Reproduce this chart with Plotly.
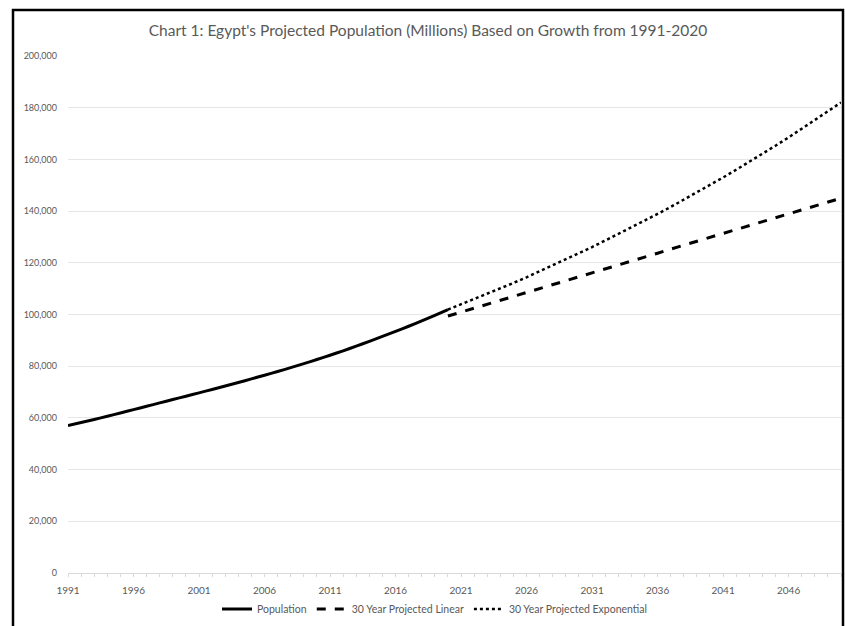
import plotly.graph_objects as go

# Historical population (thousands), 1991-2020
pop_years = list(range(1991, 2021))
population = [
    57000, 58200, 59400, 60650, 61900, 63200, 64500, 65800, 67100, 68400,
    69700, 71000, 72350, 73700, 75100, 76500, 77950, 79450, 81000, 82600,
    84250, 85950, 87750, 89600, 91500, 93450, 95450, 97500, 99650, 101900,
]

# 30-year projections, 2020-2050
proj_years = list(range(2020, 2051))
projected_linear = [
    99400, 100900, 102400, 103900, 105500, 107000, 108500, 110000, 111600, 113100,
    114600, 116100, 117600, 119200, 120700, 122200, 123700, 125300, 126800, 128300,
    129800, 131300, 132900, 134400, 135900, 137400, 139000, 140500, 142000, 143500,
    145000,
]
projected_exponential = [
    101900, 103900, 105900, 108000, 110100, 112200, 114400, 116700, 118900, 121300,
    123700, 126100, 128600, 131100, 133600, 136200, 138900, 141600, 144400, 147200,
    150100, 153000, 156000, 159000, 162100, 165300, 168500, 171800, 175100, 178500,
    182000,
]

x_tickvals = list(range(1991, 2050, 5))
y_tickvals = list(range(0, 200001, 20000))

FONT = "Lato"
GREY = "#595959"

fig = go.Figure()
fig.add_trace(go.Scatter(
    x=pop_years, y=population, mode="lines", name="Population",
    line=dict(color="#000000", width=3, shape="spline", smoothing=0.6),
))
fig.add_trace(go.Scatter(
    x=proj_years, y=projected_linear, mode="lines", name="30 Year Projected Linear",
    line=dict(color="#000000", width=3, dash="dash"),
))
fig.add_trace(go.Scatter(
    x=proj_years, y=projected_exponential, mode="lines",
    name="30 Year Projected Exponential",
    line=dict(color="#000000", width=2.5, dash="dot"),
))

W, H = 845, 626
L, R, T, B = 68, 4, 56, 53
pw, ph = W - L - R, H - T - B

fig.update_layout(
    width=W, height=H,
    margin=dict(l=L, r=R, t=T, b=B, autoexpand=False),
    paper_bgcolor="white", plot_bgcolor="white",
    font=dict(family=FONT, color=GREY, size=9),
    title=dict(
        text="Chart 1: Egypt's Projected Population (Millions) Based on Growth from 1991-2020",
        font=dict(family=FONT, size=15.5, color=GREY),
        xref="container", x=428 / W, xanchor="center",
        yref="container", y=1 - 31 / H, yanchor="middle",
    ),
    showlegend=True,
    legend=dict(
        orientation="h", x=(435 - L) / pw, xanchor="center",
        y=-(609 - (H - B)) / ph, yanchor="middle",
        font=dict(family=FONT, size=10.5, color=GREY),
        bgcolor="rgba(0,0,0,0)",
    ),
    xaxis=dict(
        range=[1991, 2050], tickvals=x_tickvals, showgrid=False,
        showline=True, linecolor="#d9d9d9", linewidth=1,
        ticks="outside", ticklen=3, tickcolor="#d9d9d9",
        minor=dict(dtick=1, tick0=1991, ticks="outside", ticklen=3,
                   tickcolor="#d9d9d9", showgrid=False),
        ticklabelstandoff=5,
        tickfont=dict(family=FONT, size=10, color=GREY),
        zeroline=False, fixedrange=True,
    ),
    yaxis=dict(
        range=[0, 200000], tickvals=y_tickvals, tickformat=",",
        showgrid=True, gridcolor="#e6e6e6", gridwidth=1,
        showline=False, zeroline=False, ticks="",
        ticklabelstandoff=10,
        tickfont=dict(family=FONT, size=9, color=GREY),
        fixedrange=True,
    ),
)

# Outer black frame around the chart
fig.add_shape(
    type="rect", xref="paper", yref="paper",
    x0=(13 - L) / pw, x1=(843 - L) / pw,
    y0=-(640 - (H - B)) / ph, y1=1 + (T - 10) / ph,
    line=dict(color="#000000", width=2.5), fillcolor="rgba(0,0,0,0)",
    layer="above",
)

fig.write_html("out.html")
